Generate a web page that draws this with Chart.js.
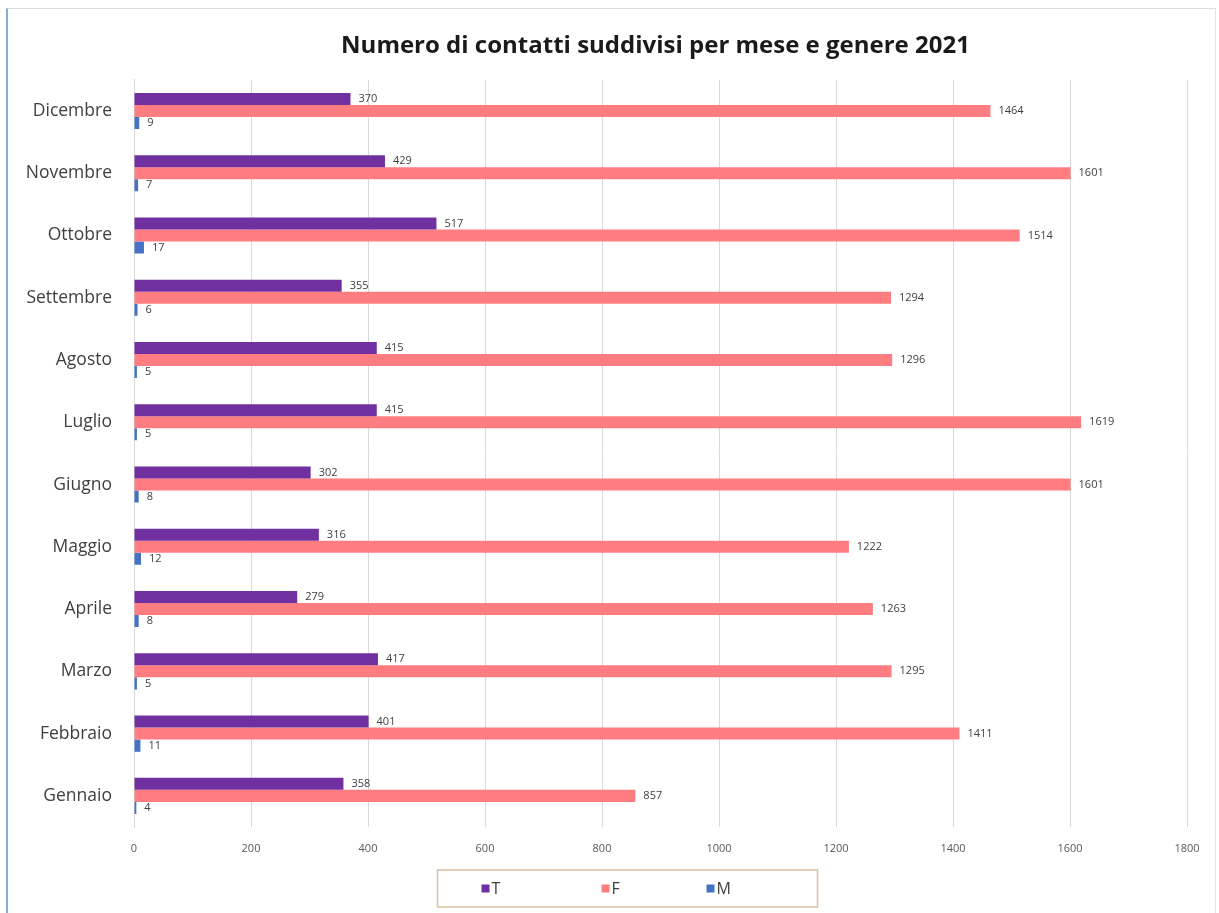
<!DOCTYPE html>
<html lang="it">
<head>
<meta charset="utf-8">
<title>Numero di contatti suddivisi per mese e genere 2021</title>
<script src="https://cdn.jsdelivr.net/npm/chart.js@4.4.1/dist/chart.umd.min.js"></script>
<style>
  html, body { margin: 0; padding: 0; background: #ffffff; }
  #frame {
    position: absolute; left: 6px; top: 8px; width: 1210px; height: 905px;
    border-left: 2px solid #86aed3; border-top: 1px solid #d9dde2; border-right: 1px solid #d6e8f2;
    box-sizing: border-box;
  }
  #wrap { position: absolute; left: 0; top: 0; width: 1219px; height: 913px; }
</style>
</head>
<body>
<div id="frame"></div>
<div id="wrap"><canvas id="chart" width="1219" height="913"></canvas></div>
<script>
// Months listed top to bottom as they appear on the chart
const months = ['Dicembre', 'Novembre', 'Ottobre', 'Settembre', 'Agosto', 'Luglio',
                'Giugno', 'Maggio', 'Aprile', 'Marzo', 'Febbraio', 'Gennaio'];
const valuesT = [370, 429, 517, 355, 415, 415, 302, 316, 279, 417, 401, 358];
const valuesF = [1464, 1601, 1514, 1294, 1296, 1619, 1601, 1222, 1263, 1295, 1411, 857];
const valuesM = [9, 7, 17, 6, 5, 5, 8, 12, 8, 5, 11, 4];
const seriesNames = ['T', 'F', 'M'];
const xTicks = [0, 200, 400, 600, 800, 1000, 1200, 1400, 1600, 1800];

const colors = ['#7030A0', '#FF7C80', '#4472C4'];
const labelFont = "'Open Sans', 'Liberation Sans', sans-serif";

// Value printed just past the end of each bar
const valueLabels = {
  id: 'valueLabels',
  afterDatasetsDraw(chart) {
    const ctx = chart.ctx;
    ctx.save();
    ctx.font = '11px ' + labelFont;
    ctx.fillStyle = '#404040';
    ctx.textBaseline = 'middle';
    ctx.textAlign = 'left';
    chart.data.datasets.forEach((ds, i) => {
      chart.getDatasetMeta(i).data.forEach((bar, j) => {
        ctx.fillText(String(ds.data[j]), bar.x + 8, bar.y);
      });
    });
    ctx.restore();
  }
};

// Title centred over the plot area
const centreTitle = {
  id: 'centreTitle',
  beforeDraw(chart) {
    const t = chart.titleBlock;
    if (t) {
      const w = t.right - t.left;
      const mid = (chart.chartArea.left + chart.chartArea.right) / 2 - 5;
      t.left = mid - w / 2;
      t.right = mid + w / 2;
    }
  }
};

// Boxed legend below the x axis
const boxedLegend = {
  id: 'boxedLegend',
  afterDraw(chart) {
    const ctx = chart.ctx;
    const area = chart.chartArea;
    const boxW = 380, boxH = 37;
    const cx = (area.left + area.right) / 2 - 33;
    const top = area.bottom + 43;
    ctx.save();
    ctx.strokeStyle = '#dcc0a4';
    ctx.lineWidth = 1.5;
    ctx.strokeRect(cx - boxW / 2, top, boxW, boxH);
    const offsets = [-140, -20, 85];
    ctx.font = '16px ' + labelFont;
    ctx.textBaseline = 'middle';
    ctx.textAlign = 'left';
    chart.data.datasets.forEach((ds, i) => {
      const x = cx + offsets[i];
      const y = top + boxH / 2;
      ctx.fillStyle = ds.backgroundColor;
      ctx.fillRect(x - 6, y - 4, 8, 8);
      ctx.fillStyle = '#404040';
      ctx.fillText(ds.label, x + 4, y + 1);
    });
    ctx.restore();
  }
};

new Chart(document.getElementById('chart'), {
  type: 'bar',
  data: {
    labels: months,
    datasets: [
      { label: seriesNames[0], data: valuesT, backgroundColor: colors[0] },
      { label: seriesNames[1], data: valuesF, backgroundColor: colors[1] },
      { label: seriesNames[2], data: valuesM, backgroundColor: colors[2] }
    ]
  },
  options: {
    indexAxis: 'y',
    responsive: false,
    animation: false,
    devicePixelRatio: 1,
    datasets: { bar: { categoryPercentage: 0.58, barPercentage: 1.0 } },
    layout: { padding: { left: 10, right: 32, top: 0, bottom: 56 } },
    plugins: {
      legend: { display: false },
      tooltip: { enabled: false },
      title: {
        display: true,
        text: 'Numero di contatti suddivisi per mese e genere 2021',
        color: '#1a1a1a',
        font: { family: labelFont, size: 24, weight: 'bold', lineHeight: 1.2 },
        padding: { top: 32, bottom: 19 }
      }
    },
    scales: {
      x: {
        min: 0, max: 1800,
        afterBuildTicks(scale) { scale.ticks = xTicks.map(v => ({ value: v })); },
        afterFit(scale) { scale.height = 30; },
        grid: { color: '#d9d9d9', drawTicks: false, lineWidth: 1 },
        border: { display: false },
        ticks: {
          color: '#595959', font: { family: labelFont, size: 11 }, padding: 15,
          callback: (v) => String(v)
        }
      },
      y: {
        afterFit(scale) { scale.width = 124; },
        grid: { display: false, drawTicks: false },
        border: { display: true, color: '#d9d9d9' },
        ticks: { color: '#404040', font: { family: labelFont, size: 17.5 }, padding: 22 }
      }
    }
  },
  plugins: [valueLabels, centreTitle, boxedLegend]
});
</script>
</body>
</html>
